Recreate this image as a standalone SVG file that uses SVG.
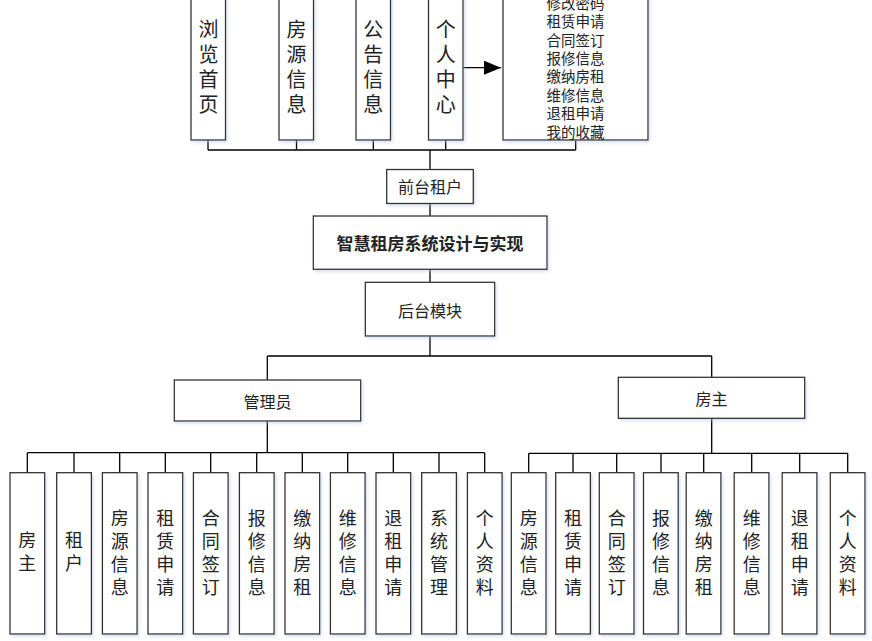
<svg xmlns="http://www.w3.org/2000/svg" width="872" height="641" viewBox="0 0 872 641">
<style>
.box{fill:#fff;stroke:#333;stroke-width:1.3;filter:url(#sh)}
.t{font-family:"Noto Sans CJK SC","Noto Sans",sans-serif;fill:#222;text-anchor:middle}
.t20{font-size:20px}
.t18{font-size:18px}
.t16{font-size:16px}
.t15{font-size:14.5px}
.c{fill:none;stroke:#000;stroke-width:1.3}
</style>
<defs>
<filter id="sh" x="-20%" y="-20%" width="140%" height="140%">
<feDropShadow dx="1.5" dy="2" stdDeviation="1.5" flood-color="#a9bde0" flood-opacity="0.45"/>
</filter>
<marker id="ah" markerWidth="18" markerHeight="14" refX="17" refY="7" orient="auto" markerUnits="userSpaceOnUse">
<path d="M0,0 L17,7 L0,14 Z" fill="#000"/>
</marker>
</defs>
<rect width="872" height="641" fill="#fff"/>

<g id="connectors">
<path class="c" d="M208,140V150M296.5,140V150M373.3,140V150M445.7,140V150M575.7,140V150M208,150H575.7M430,150V169.5"/>
<path class="c" d="M463,67.7H501" marker-end="url(#ah)"/>
<path class="c" d="M430,203.5V216M430,269.3V282.3M430,336V356M267.3,356H711.7M267.3,356V380M711.7,356V377.3"/>
<path class="c" d="M267.3,421V452.7M27.3,452.7H484.7M27.3,452.7V472.7M74,452.7V472.7M119.7,452.7V472.7M165.3,452.7V472.7M210.7,452.7V472.7M256.7,452.7V472.7M302.3,452.7V472.7M347.7,452.7V472.7M393.3,452.7V472.7M439,452.7V472.7M484.7,452.7V472.7"/>
<path class="c" d="M711.7,418.3V453.3M528.7,453.3H847.7M528.7,453.3V472.7M573,453.3V472.7M616.7,453.3V472.7M661,453.3V472.7M703.7,453.3V472.7M751.7,453.3V472.7M799.7,453.3V472.7M847.7,453.3V472.7"/>
</g>

<g id="n-browse"><rect class="box" x="191" y="-10" width="34.5" height="150"/>
<text class="t t20"><tspan x="208.5" y="36.5">浏</tspan><tspan x="208.5" y="61.5">览</tspan><tspan x="208.5" y="86.5">首</tspan><tspan x="208.5" y="111.5">页</tspan></text></g>
<g id="n-house"><rect class="box" x="279" y="-10" width="34.5" height="150"/>
<text class="t t20"><tspan x="296.5" y="36.5">房</tspan><tspan x="296.5" y="61.5">源</tspan><tspan x="296.5" y="86.5">信</tspan><tspan x="296.5" y="111.5">息</tspan></text></g>
<g id="n-notice"><rect class="box" x="356" y="-10" width="34.5" height="150"/>
<text class="t t20"><tspan x="373.3" y="36.5">公</tspan><tspan x="373.3" y="61.5">告</tspan><tspan x="373.3" y="86.5">信</tspan><tspan x="373.3" y="111.5">息</tspan></text></g>
<g id="n-personal"><rect class="box" x="428.5" y="-10" width="34.5" height="150"/>
<text class="t t20"><tspan x="445.7" y="36.5">个</tspan><tspan x="445.7" y="61.5">人</tspan><tspan x="445.7" y="86.5">中</tspan><tspan x="445.7" y="111.5">心</tspan></text></g>
<g id="n-list"><rect class="box" x="503" y="-20" width="145" height="160"/>
<text class="t t15"><tspan x="575.5" y="8.8">修改密码</tspan><tspan x="575.5" y="27.2">租赁申请</tspan><tspan x="575.5" y="45.6">合同签订</tspan><tspan x="575.5" y="64">报修信息</tspan><tspan x="575.5" y="82.4">缴纳房租</tspan><tspan x="575.5" y="100.8">维修信息</tspan><tspan x="575.5" y="119.2">退租申请</tspan><tspan x="575.5" y="137.6">我的收藏</tspan></text></g>

<g id="n-tenant"><rect class="box" x="386.7" y="169.5" width="86.6" height="34"/>
<text class="t t16" x="430" y="192.5">前台租户</text></g>
<g id="n-root"><rect class="box" x="313.3" y="216" width="233.7" height="53.3"/>
<text class="t" x="430" y="249.5" font-size="17" font-weight="bold">智慧租房系统设计与实现</text></g>
<g id="n-backend"><rect class="box" x="365.3" y="282.3" width="129.4" height="53.7"/>
<text class="t t16" x="430" y="316.5">后台模块</text></g>
<g id="n-admin"><rect class="box" x="174.3" y="380" width="186.4" height="41"/>
<text class="t t16" x="267.5" y="407.5">管理员</text></g>
<g id="n-landlord"><rect class="box" x="618.3" y="377.3" width="186.4" height="41"/>
<text class="t t16" x="711.5" y="404.5">房主</text></g>

<g id="a1"><rect class="box" x="10" y="472.7" width="34.7" height="161.3"/>
<text class="t t18"><tspan x="27.3" y="546.8">房</tspan><tspan x="27.3" y="570.1">主</tspan></text></g>
<g id="a2"><rect class="box" x="56.7" y="472.7" width="34.7" height="161.3"/>
<text class="t t18"><tspan x="74" y="546.8">租</tspan><tspan x="74" y="570.1">户</tspan></text></g>
<g id="a3"><rect class="box" x="102.4" y="472.7" width="34.7" height="161.3"/>
<text class="t t18"><tspan x="119.7" y="525.1">房</tspan><tspan x="119.7" y="547.9">源</tspan><tspan x="119.7" y="570.7">信</tspan><tspan x="119.7" y="593.5">息</tspan></text></g>
<g id="a4"><rect class="box" x="148" y="472.7" width="34.7" height="161.3"/>
<text class="t t18"><tspan x="165.3" y="525.1">租</tspan><tspan x="165.3" y="547.9">赁</tspan><tspan x="165.3" y="570.7">申</tspan><tspan x="165.3" y="593.5">请</tspan></text></g>
<g id="a5"><rect class="box" x="193.4" y="472.7" width="34.7" height="161.3"/>
<text class="t t18"><tspan x="210.7" y="525.1">合</tspan><tspan x="210.7" y="547.9">同</tspan><tspan x="210.7" y="570.7">签</tspan><tspan x="210.7" y="593.5">订</tspan></text></g>
<g id="a6"><rect class="box" x="239.4" y="472.7" width="34.7" height="161.3"/>
<text class="t t18"><tspan x="256.7" y="525.1">报</tspan><tspan x="256.7" y="547.9">修</tspan><tspan x="256.7" y="570.7">信</tspan><tspan x="256.7" y="593.5">息</tspan></text></g>
<g id="a7"><rect class="box" x="285" y="472.7" width="34.7" height="161.3"/>
<text class="t t18"><tspan x="302.3" y="525.1">缴</tspan><tspan x="302.3" y="547.9">纳</tspan><tspan x="302.3" y="570.7">房</tspan><tspan x="302.3" y="593.5">租</tspan></text></g>
<g id="a8"><rect class="box" x="330.4" y="472.7" width="34.7" height="161.3"/>
<text class="t t18"><tspan x="347.7" y="525.1">维</tspan><tspan x="347.7" y="547.9">修</tspan><tspan x="347.7" y="570.7">信</tspan><tspan x="347.7" y="593.5">息</tspan></text></g>
<g id="a9"><rect class="box" x="376" y="472.7" width="34.7" height="161.3"/>
<text class="t t18"><tspan x="393.3" y="525.1">退</tspan><tspan x="393.3" y="547.9">租</tspan><tspan x="393.3" y="570.7">申</tspan><tspan x="393.3" y="593.5">请</tspan></text></g>
<g id="a10"><rect class="box" x="421.7" y="472.7" width="34.7" height="161.3"/>
<text class="t t18"><tspan x="439" y="525.1">系</tspan><tspan x="439" y="547.9">统</tspan><tspan x="439" y="570.7">管</tspan><tspan x="439" y="593.5">理</tspan></text></g>
<g id="a11"><rect class="box" x="467.4" y="472.7" width="34.7" height="161.3"/>
<text class="t t18"><tspan x="484.7" y="525.1">个</tspan><tspan x="484.7" y="547.9">人</tspan><tspan x="484.7" y="570.7">资</tspan><tspan x="484.7" y="593.5">料</tspan></text></g>

<g id="l1"><rect class="box" x="511.3" y="472.7" width="34.7" height="161.3"/>
<text class="t t18"><tspan x="528.7" y="525.1">房</tspan><tspan x="528.7" y="547.9">源</tspan><tspan x="528.7" y="570.7">信</tspan><tspan x="528.7" y="593.5">息</tspan></text></g>
<g id="l2"><rect class="box" x="555.7" y="472.7" width="34.7" height="161.3"/>
<text class="t t18"><tspan x="573" y="525.1">租</tspan><tspan x="573" y="547.9">赁</tspan><tspan x="573" y="570.7">申</tspan><tspan x="573" y="593.5">请</tspan></text></g>
<g id="l3"><rect class="box" x="599.3" y="472.7" width="34.7" height="161.3"/>
<text class="t t18"><tspan x="616.7" y="525.1">合</tspan><tspan x="616.7" y="547.9">同</tspan><tspan x="616.7" y="570.7">签</tspan><tspan x="616.7" y="593.5">订</tspan></text></g>
<g id="l4"><rect class="box" x="643.5" y="472.7" width="34.7" height="161.3"/>
<text class="t t18"><tspan x="661" y="525.1">报</tspan><tspan x="661" y="547.9">修</tspan><tspan x="661" y="570.7">信</tspan><tspan x="661" y="593.5">息</tspan></text></g>
<g id="l5"><rect class="box" x="686.2" y="472.7" width="34.7" height="161.3"/>
<text class="t t18"><tspan x="703.7" y="525.1">缴</tspan><tspan x="703.7" y="547.9">纳</tspan><tspan x="703.7" y="570.7">房</tspan><tspan x="703.7" y="593.5">租</tspan></text></g>
<g id="l6"><rect class="box" x="734.2" y="472.7" width="34.7" height="161.3"/>
<text class="t t18"><tspan x="751.7" y="525.1">维</tspan><tspan x="751.7" y="547.9">修</tspan><tspan x="751.7" y="570.7">信</tspan><tspan x="751.7" y="593.5">息</tspan></text></g>
<g id="l7"><rect class="box" x="782.2" y="472.7" width="34.7" height="161.3"/>
<text class="t t18"><tspan x="799.7" y="525.1">退</tspan><tspan x="799.7" y="547.9">租</tspan><tspan x="799.7" y="570.7">申</tspan><tspan x="799.7" y="593.5">请</tspan></text></g>
<g id="l8"><rect class="box" x="830.3" y="472.7" width="34.7" height="161.3"/>
<text class="t t18"><tspan x="847.7" y="525.1">个</tspan><tspan x="847.7" y="547.9">人</tspan><tspan x="847.7" y="570.7">资</tspan><tspan x="847.7" y="593.5">料</tspan></text></g>
</svg>
